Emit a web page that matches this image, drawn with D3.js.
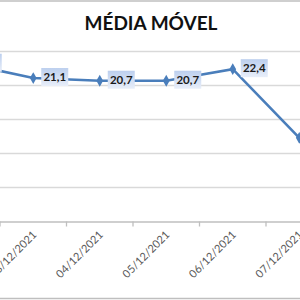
<!DOCTYPE html>
<html><head><meta charset="utf-8">
<script src="https://cdn.jsdelivr.net/npm/d3@7"></script>
<style>html,body{margin:0;padding:0;background:#fff;}svg{display:block;}</style>
</head><body>
<script>
const categories = ["02/12/2021","03/12/2021","04/12/2021","05/12/2021","06/12/2021","07/12/2021"];
const values = [23.2, 21.1, 20.7, 20.7, 22.4, 12.3];
const yTicks = [0,5,10,15,20,25];
const title = "MÉDIA MÓVEL";

const W = 300, H = 300;
const svg = d3.select("body").append("svg").attr("width", W).attr("height", H);

const defs = svg.append("defs");
const g = defs.append("linearGradient").attr("id","lbl").attr("x1",0).attr("y1",0).attr("x2",0).attr("y2",1);
g.append("stop").attr("offset","0%").attr("stop-color","#bccfee");
g.append("stop").attr("offset","100%").attr("stop-color","#e8eef9");

// borders
svg.append("line").attr("x1",0).attr("x2",W).attr("y1",1).attr("y2",1).attr("stroke","#bfbfbf").attr("stroke-width",1.5);
svg.append("line").attr("x1",0).attr("x2",W).attr("y1",298.5).attr("y2",298.5).attr("stroke","#bfbfbf").attr("stroke-width",1.5);

svg.append("text").attr("x",151).attr("y",30).attr("text-anchor","middle")
  .attr("font-family","Lato, 'Open Sans', sans-serif").attr("font-weight","bold").attr("font-size",19)
  .attr("fill","#111").text(title);

const x = d3.scaleBand().domain(categories).range([-66.5, 332.5]);
const y = d3.scaleLinear().domain([0,25]).range([221.5, 51.5]);

// gridlines
svg.append("g").selectAll("line").data(yTicks.filter(d=>d>0)).join("line")
  .attr("x1",0).attr("x2",W).attr("y1",d=>y(d)).attr("y2",d=>y(d))
  .attr("stroke","#d9d9d9").attr("stroke-width",1.3);

// x axis
const xAxis = svg.append("g").attr("transform",`translate(0,${y(0)})`)
  .call(d3.axisBottom(x).tickSize(0).tickFormat(""));
xAxis.select(".domain").attr("stroke","#bfbfbf").attr("stroke-width",1.3);
// boundary ticks
const bounds = categories.map(c=>x(c)).concat([x(categories[categories.length-1])+x.bandwidth()]);
xAxis.selectAll(".bt").data(bounds).join("line").attr("class","bt")
  .attr("x1",d=>d).attr("x2",d=>d).attr("y1",0).attr("y2",5).attr("stroke","#bfbfbf").attr("stroke-width",1.3);

// x labels
svg.append("g").selectAll("text").data(categories).join("text")
  .attr("transform",d=>`translate(${x(d)+x.bandwidth()/2+4},${y(0)+14}) rotate(-45)`)
  .attr("text-anchor","end")
  .attr("font-family","Lato, 'Open Sans', sans-serif").attr("font-size",11)
  .attr("fill","#595959").text(d=>d);

const cx = d => x(d) + x.bandwidth()/2;
const data = categories.map((c,i)=>({c, v: values[i]}));

svg.append("path").datum(data)
  .attr("d", d3.line().x(d=>cx(d.c)).y(d=>y(d.v)))
  .attr("fill","none").attr("stroke","#4a7ebb").attr("stroke-width",2.5);

svg.append("g").selectAll("path").data(data).join("path")
  .attr("transform",d=>`translate(${cx(d.c)},${y(d.v)})`)
  .attr("d", d3.symbol().type(d3.symbolDiamond).size(40))
  .attr("fill","#4a7ebb");

const lbl = svg.append("g").selectAll("g").data(data).join("g")
  .attr("transform",d=>`translate(${cx(d.c)+8},${y(d.v)-1})`);
lbl.append("rect").attr("x",0).attr("y",-9).attr("width",27).attr("height",18).attr("fill","url(#lbl)");
lbl.append("text").attr("x",13.5).attr("y",4).attr("text-anchor","middle")
  .attr("font-family","Lato, 'Open Sans', sans-serif").attr("font-weight","bold").attr("font-size",11.5)
  .attr("fill","#1a1a1a").text(d=>d.v.toFixed(1).replace(".",","));
</script>
</body></html>
